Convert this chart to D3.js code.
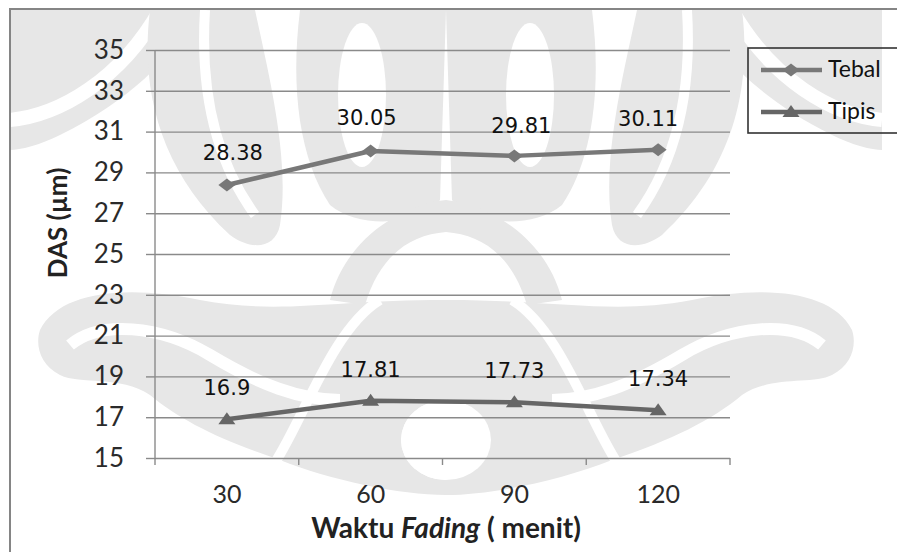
<!DOCTYPE html>
<html>
<head>
<meta charset="utf-8">
<script src="https://cdn.jsdelivr.net/npm/d3@7"></script>
<style>
  html, body { margin: 0; padding: 0; background: #fff; }
  svg { display: block; }
</style>
</head>
<body>
<svg id="chart" width="897" height="552"></svg>
<script>
// ---- data ----
const categories = ["30", "60", "90", "120"];
const tebal = [28.38, 30.05, 29.81, 30.11];
const tipis = [16.9, 17.81, 17.73, 17.34];
const seriesNames = ["Tebal", "Tipis"];
const yTicks = [15, 17, 19, 21, 23, 25, 27, 29, 31, 33, 35];

// ---- layout ----
const W = 897, H = 552;
const plot = { left: 155, right: 730, top: 50, bottom: 458 };
// small horizontal shifts of the upper series' value labels
const tebalLabelShift = [6, -4, 7, -10];
const tebalLabelRaise = [25, 26, 23, 24];

const svg = d3.select("#chart");

// ---- faint background emblem ----
const wm = svg.append("g").attr("class", "emblem");
const grey = "#e7e7e7";
const cx = 446;
function half(g) {
  // outer swirl, top corner
  g.append("path").attr("fill", grey)
    .attr("d", "M10,10 L200,10 C170,60 130,100 60,135 C40,145 20,150 10,150 Z");
  g.append("path").attr("fill", "none").attr("stroke", "#fff").attr("stroke-width", 14)
    .attr("d", "M10,120 C60,115 120,80 160,10");
  // outer tall lobe
  g.append("path").attr("fill", grey)
    .attr("d", "M150,10 C140,90 160,170 230,235 C250,250 275,250 280,225 C290,160 270,80 255,10 Z");
  g.append("path").attr("fill", "none").attr("stroke", "#fff").attr("stroke-width", 10)
    .attr("d", "M205,10 C200,90 215,160 255,215");
  // inner tall lobe with hollow centre
  g.append("path").attr("fill", grey)
    .attr("d", "M300,10 C290,90 300,160 330,205 C360,230 420,225 440,200 L446,10 Z");
  g.append("ellipse").attr("fill", "#fff").attr("cx", 362).attr("cy", 95).attr("rx", 24).attr("ry", 72);
  // ring around the central arch
  g.append("path").attr("fill", grey)
    .attr("d", "M446,200 C400,205 345,240 330,300 L365,305 C380,255 410,235 446,232 Z");
  // lower sweeping band
  g.append("path").attr("fill", grey)
    .attr("d", "M40,330 C60,290 130,285 200,300 C280,315 330,300 446,300 L446,495 C400,495 330,480 280,460 C220,440 180,420 150,395 C120,375 80,385 60,375 C40,365 35,345 40,330 Z");
  g.append("path").attr("fill", "none").attr("stroke", "#fff").attr("stroke-width", 12)
    .attr("d", "M70,345 C100,320 160,325 210,355 C260,385 300,400 340,400");
  g.append("ellipse").attr("fill", "#fff").attr("cx", 446).attr("cy", 440).attr("rx", 45).attr("ry", 40);
  g.append("path").attr("fill", "none").attr("stroke", "#fff").attr("stroke-width", 10)
    .attr("d", "M270,470 C300,430 330,330 380,300");
}
half(wm.append("g"));
half(wm.append("g").attr("transform", `translate(${2 * cx},0) scale(-1,1)`));

// ---- scales ----
const x = d3.scaleBand().domain(categories).range([plot.left, plot.right]);
const y = d3.scaleLinear().domain([15, 35]).range([plot.bottom, plot.top]);
const px = c => x(c) + x.bandwidth() / 2;

// ---- frame edges ----
svg.append("path").attr("fill", "none").attr("stroke", "#858585").attr("stroke-width", 2)
  .attr("d", `M10,${H} L10,9 L${W},9`);

// ---- gridlines + y axis ----
const yAxis = d3.axisLeft(y).tickValues(yTicks).tickSize(9).tickPadding(22).tickFormat(d3.format("d"));
const gy = svg.append("g").attr("transform", `translate(${plot.left},0)`).call(yAxis);
gy.select(".domain").remove();
gy.selectAll(".tick line").attr("stroke", "#8a8a8a").attr("stroke-width", 1.4);
gy.selectAll(".tick").append("line")
  .attr("x1", 0).attr("x2", plot.right - plot.left)
  .attr("stroke", "#8a8a8a").attr("stroke-width", 1.4);
gy.selectAll(".tick text")
  .attr("fill", "#2a2a2a").style("font-family", "Lato, 'Open Sans', sans-serif").style("font-size", "26px");

// vertical axis line
svg.append("line").attr("x1", plot.left).attr("x2", plot.left)
  .attr("y1", plot.top).attr("y2", plot.bottom + 7)
  .attr("stroke", "#8a8a8a").attr("stroke-width", 1.4);

// ---- x axis ----
const xAxis = d3.axisBottom(x).tickSize(0).tickPadding(27);
const gx = svg.append("g").attr("transform", `translate(0,${plot.bottom})`).call(xAxis);
gx.select(".domain").remove();
gx.selectAll(".tick text")
  .attr("fill", "#2a2a2a").style("font-family", "Lato, 'Open Sans', sans-serif").style("font-size", "25px");
// category boundary ticks
svg.append("g").selectAll("line").data(categories)
  .join("line")
  .attr("x1", d => x(d) + x.bandwidth())
  .attr("x2", d => x(d) + x.bandwidth())
  .attr("y1", plot.bottom).attr("y2", plot.bottom + 7)
  .attr("stroke", "#8a8a8a").attr("stroke-width", 1.4);

// ---- axis titles ----
const xt = svg.append("text").attr("x", 446).attr("y", 538).attr("text-anchor", "middle")
  .attr("fill", "#222").style("font-family", "Lato, 'Open Sans', sans-serif")
  .style("font-size", "28px").style("font-weight", "bold");
xt.append("tspan").text("Waktu ");
xt.append("tspan").style("font-style", "italic").text("Fading");
xt.append("tspan").text(" ( menit)");

svg.append("text").attr("transform", "translate(67,223) rotate(-90)")
  .attr("text-anchor", "middle").attr("fill", "#222")
  .style("font-family", "Lato, 'Open Sans', sans-serif")
  .style("font-size", "26px").style("font-weight", "bold")
  .text("DAS  (µm)");

// ---- series ----
const diamond = "M-8.5,0 L0,-6.5 L8.5,0 L0,6.5 Z";
const triangle = "M0,-7 L8.5,5 L-8.5,5 Z";
const series = [
  { name: seriesNames[0], values: tebal, color: "#787878", marker: diamond },
  { name: seriesNames[1], values: tipis, color: "#666666", marker: triangle }
];
const line = d3.line().x((d, i) => px(categories[i])).y(d => y(d));

series.forEach(s => {
  svg.append("path").datum(s.values)
    .attr("fill", "none").attr("stroke", s.color).attr("stroke-width", 4.5)
    .attr("stroke-linejoin", "round").attr("d", line);
  svg.append("g").selectAll("path").data(s.values).join("path")
    .attr("transform", (d, i) => `translate(${px(categories[i])},${y(d)})`)
    .attr("d", s.marker).attr("fill", s.color);
});

// ---- value labels ----
const labelStyle = sel => sel.attr("text-anchor", "middle").attr("fill", "#111")
  .style("font-family", "'DejaVu Sans', Verdana, sans-serif").style("font-size", "21px");
svg.append("g").selectAll("text").data(tebal).join("text")
  .attr("x", (d, i) => px(categories[i]) + tebalLabelShift[i])
  .attr("y", (d, i) => y(d) - tebalLabelRaise[i])
  .text(d => d).call(labelStyle);
svg.append("g").selectAll("text").data(tipis).join("text")
  .attr("x", (d, i) => px(categories[i]))
  .attr("y", d => y(d) - 24)
  .text(d => d).call(labelStyle);

// ---- legend ----
const lg = svg.append("g");
lg.append("rect").attr("x", 748).attr("y", 48).attr("width", 160).attr("height", 85)
  .attr("fill", "none").attr("stroke", "#333").attr("stroke-width", 1.6);
const rowY = [70, 112];
series.forEach((s, i) => {
  lg.append("line").attr("x1", 761).attr("x2", 822).attr("y1", rowY[i]).attr("y2", rowY[i])
    .attr("stroke", s.color).attr("stroke-width", 4.5);
  lg.append("path").attr("transform", `translate(791,${rowY[i]})`).attr("d", s.marker).attr("fill", s.color);
  lg.append("text").attr("x", 828).attr("y", rowY[i] + 7).attr("fill", "#111")
    .style("font-family", "Lato, 'Open Sans', sans-serif").style("font-size", "23px").text(s.name);
});
</script>
</body>
</html>
